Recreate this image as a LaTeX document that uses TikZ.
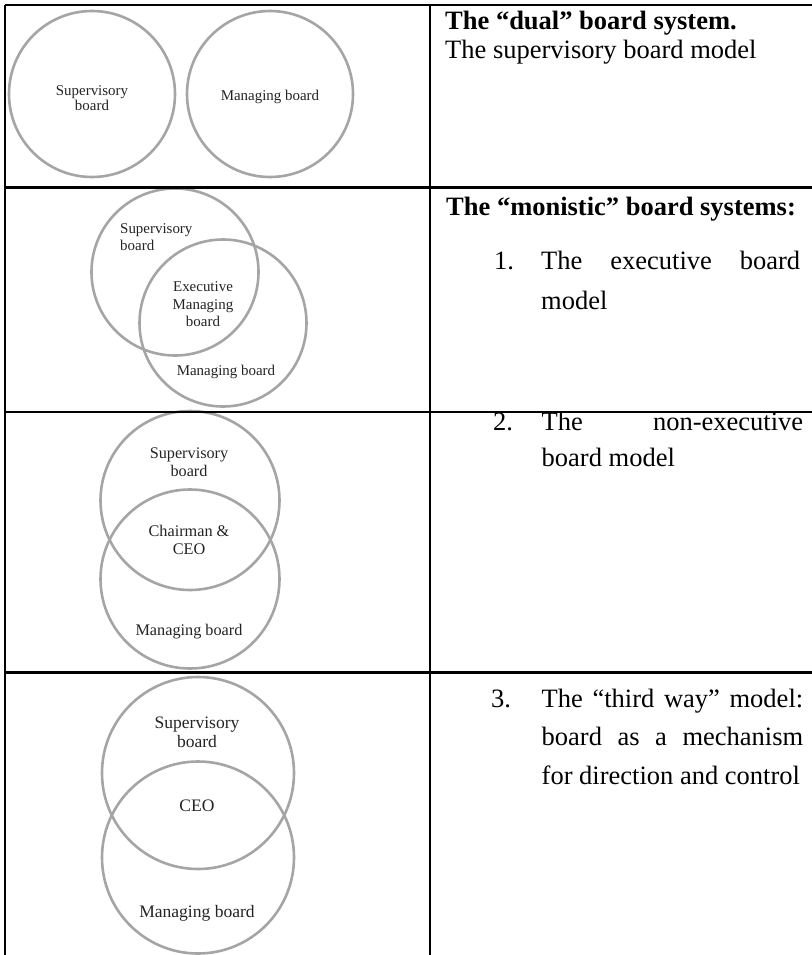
\documentclass[tikz,border=0pt]{standalone}
\usepackage{fontspec}
\setmainfont{Liberation Serif}
\definecolor{ringgray}{RGB}{165,165,165}
\definecolor{labelink}{RGB}{35,35,35}
\begin{document}
\begin{tikzpicture}[x=1bp,y=-1bp,
  ring/.style={circle,draw=ringgray,line width=2.6bp,inner sep=0pt,minimum size=#1},
  rule/.style={line width=2.5bp,black},
  lbl/.style={anchor=base,inner sep=0pt,text=labelink},
  body/.style={anchor=base west,inner sep=0pt,font=\fontsize{26.6}{30}\selectfont},
  head/.style={anchor=base west,inner sep=0pt,font=\fontsize{26.6}{30}\selectfont\bfseries},
  num/.style={anchor=base west,inner sep=0pt,font=\fontsize{26.6}{30}\selectfont}]
\useasboundingbox (0,0) rectangle (812,955);

% ---- row 1: the dual system ----
\node[ring=166bp] (r1s) at (92,94) {};
\node[ring=166bp] (r1m) at (270,94) {};
\begin{scope}[font=\fontsize{15}{15}\selectfont]
\node[lbl] (r1sa) at (92,95) {Supervisory};
\node[lbl] (r1sb) at (92,110) {board};
\node[lbl] (r1ma) at (270,100) {Managing board};
\end{scope}
\node[head] (h1) at (445,29.3) {The “dual” board system.};
\node[body] (h1b) at (445,58.5) {The supervisory board model};

% ---- row 2: executive board model ----
\node[ring=167bp] (r2s) at (175,272) {};
\node[ring=167bp] (r2m) at (223,323) {};
\begin{scope}[font=\fontsize{15}{15}\selectfont]
\node[lbl,anchor=base west] (r2sa) at (120,233.3) {Supervisory};
\node[lbl,anchor=base west] (r2sb) at (120,250) {board};
\node[lbl] (r2ea) at (203,291.7) {Executive};
\node[lbl] (r2eb) at (203,309.2) {Managing};
\node[lbl] (r2ec) at (203,326.7) {board};
\node[lbl] (r2ma) at (226,375) {Managing board};
\end{scope}
\node[head] (h2) at (446,215.7) {The “monistic” board systems:};
\node[num] (n1) at (494,269) {1.};
\node[body] (t1a) at (541,269) {\hbox to 259bp{The\hfill executive\hfill board}};
\node[body] (t1b) at (541,309) {model};

% ---- row 3: non-executive board model ----
\node[ring=179bp] (r3s) at (190,500.5) {};
\node[ring=179bp] (r3m) at (190,579) {};
\begin{scope}[font=\fontsize{16.3}{16.3}\selectfont]
\node[lbl] (r3sa) at (189,458.3) {Supervisory};
\node[lbl] (r3sb) at (189,476) {board};
\node[lbl] (r3ca) at (189,536) {Chairman \&};
\node[lbl] (r3cb) at (189,554) {CEO};
\node[lbl] (r3ma) at (189,635) {Managing board};
\end{scope}
\node[num] (n2) at (493,430.7) {2.};
\node[body] (t2a) at (541.5,430.7) {\hbox to 261.5bp{The\hfill non-executive}};
\node[body] (t2b) at (541.5,466.7) {board model};

% ---- row 4: the third way ----
\node[ring=192bp] (r4s) at (198,773) {};
\node[ring=192bp] (r4m) at (198,857.5) {};
\begin{scope}[font=\fontsize{17.6}{17.6}\selectfont]
\node[lbl] (r4sa) at (197,728.3) {Supervisory};
\node[lbl] (r4sb) at (197,747.7) {board};
\node[lbl] (r4c) at (197,811) {CEO};
\node[lbl] (r4ma) at (197,917.7) {Managing board};
\end{scope}
\node[num] (n3) at (491,707.3) {3.};
\node[body] (t3a) at (541.5,707.3) {\hbox to 261.5bp{The\hfill “third\hfill way”\hfill model:}};
\node[body] (t3b) at (541.5,745.7) {\hbox to 261.5bp{board\hfill as\hfill a\hfill mechanism}};
\node[body] (t3c) at (541.5,784) {for direction and control};

% ---- table rules ----
\coordinate (tl) at (5,5);
\coordinate (tr) at (812,5);
\coordinate (bl) at (5,955);
\coordinate (ct) at (430,5);
\coordinate (cb) at (430,955);
\draw[rule] (tl) -- (tr);
\draw[rule] (tl) -- (bl);
\draw[rule] (ct) -- (cb);
\foreach \yy/\nm in {187.5/a,412/b,672.5/c}{
  \coordinate (rl\nm) at (5,\yy);
  \coordinate (rr\nm) at (812,\yy);
  \draw[rule] (rl\nm) -- (rr\nm);
}
\end{tikzpicture}
\end{document}
